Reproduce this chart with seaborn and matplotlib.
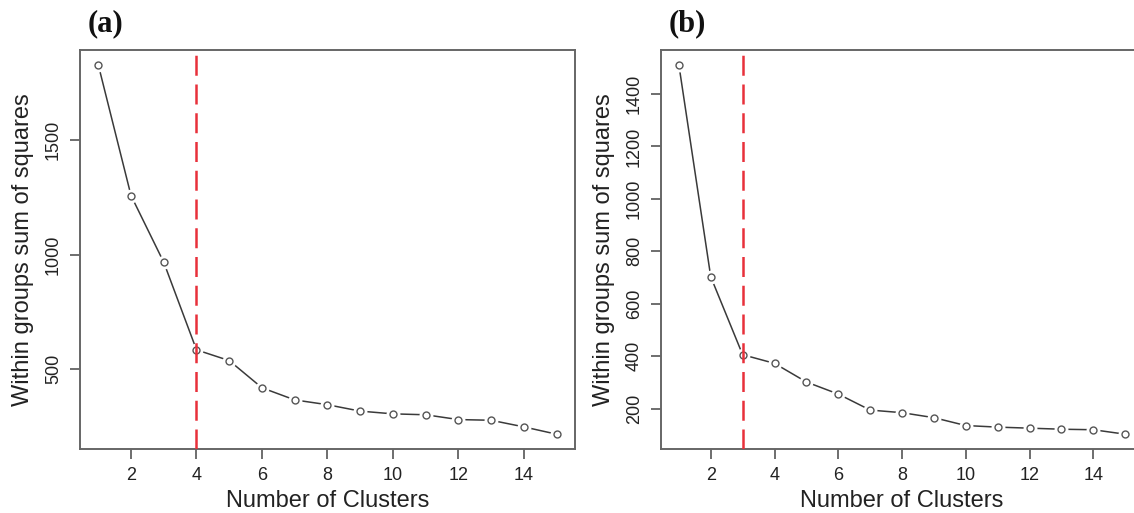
import matplotlib
matplotlib.use("Agg")
import pandas as pd
import seaborn as sns
import matplotlib.pyplot as plt

# data
clusters = list(range(1, 16))
wss_a = [1830, 1258, 966, 583, 536, 417, 364, 343, 315, 303, 299, 278, 275, 246, 214]
wss_b = [1511, 703, 406, 373, 302, 256, 195, 185, 166, 136, 130, 126, 122, 120, 103]
elbow_a = 4
elbow_b = 3
panel_labels = ["(a)", "(b)"]
yticks_a = [500, 1000, 1500]
yticks_b = [200, 400, 600, 800, 1000, 1200, 1400]
xticks = [2, 4, 6, 8, 10, 12, 14]

sns.set_theme(style="ticks")
plt.rcParams['font.family'] = ['Liberation Sans', 'DejaVu Sans']

fig = plt.figure(figsize=(11.34, 5.13), dpi=100)
ax_a = fig.add_axes([0.0705, 0.1248, 0.4365, 0.7777])
ax_b = fig.add_axes([0.5829, 0.1248, 0.4251, 0.7777])


def elbow_plot(ax, wss, elbow, yticks, label):
    df = pd.DataFrame({"k": clusters, "wss": wss})
    sns.lineplot(data=df, x="k", y="wss", ax=ax, color="#3a3a3a", linewidth=1.1)
    # R type="b" look: white halo around each point, then an open circle
    ax.plot(df["k"], df["wss"], "o", ms=10, mfc="white", mec="none", zorder=3)
    ax.plot(df["k"], df["wss"], "o", ms=5, mfc="white", mec="#555555", mew=1.0, zorder=4)
    ax.axvline(elbow, color="#e8303a", linestyle=(0, (8, 3.5)), linewidth=1.8, zorder=5)

    lo, hi = min(wss), max(wss)
    pad = (hi - lo) * 0.04
    ax.set_ylim(lo - pad, hi + pad)
    ax.set_xlim(1 - 14 * 0.04, 15 + 14 * 0.04)
    ax.set_xticks(xticks)
    ax.set_yticks(yticks)
    ax.set_yticklabels([str(t) for t in yticks], rotation=90, va="center")
    ax.tick_params(axis="both", labelsize=13, length=7, width=1.2, color="#555555",
                   labelcolor="#222222", pad=6)
    ax.set_xlabel("Number of Clusters", fontsize=17, color="#222222", labelpad=4)
    ax.set_ylabel("Within groups sum of squares", fontsize=17, color="#222222", labelpad=8)
    for s in ax.spines.values():
        s.set_visible(True)
        s.set_color("#666666")
        s.set_linewidth(1.4)
    ax.text(0.015, 1.03, label, transform=ax.transAxes, fontsize=22, fontweight="bold",
            family="Liberation Serif", ha="left", va="bottom", color="#111111")


elbow_plot(ax_a, wss_a, elbow_a, yticks_a, panel_labels[0])
elbow_plot(ax_b, wss_b, elbow_b, yticks_b, panel_labels[1])

fig.savefig("out.png", dpi=100)
